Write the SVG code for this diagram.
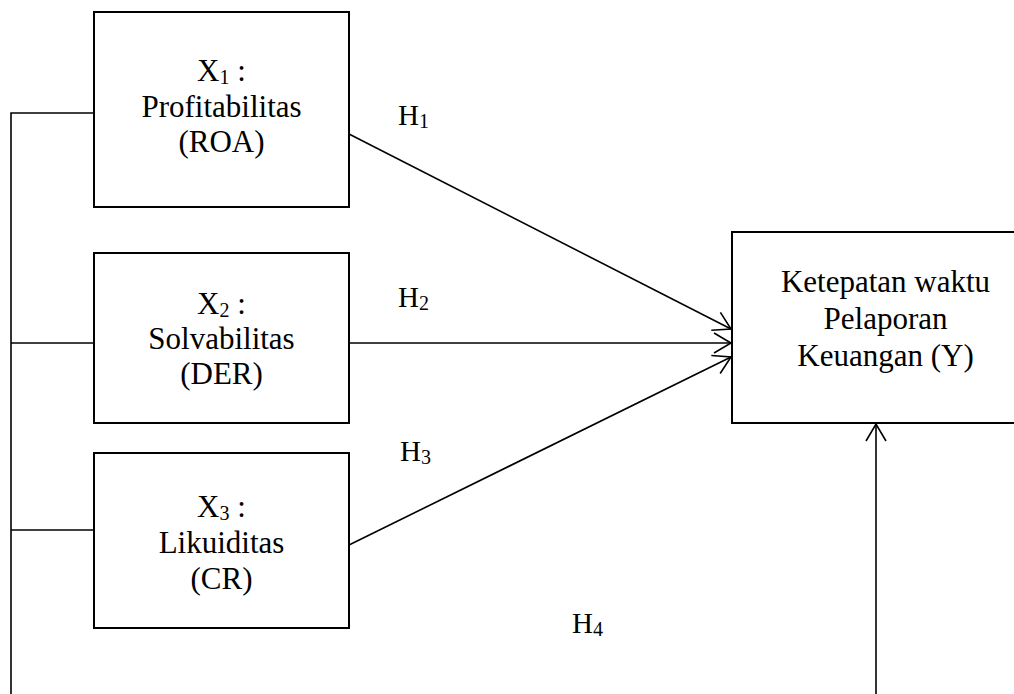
<svg xmlns="http://www.w3.org/2000/svg" width="1014" height="694" viewBox="0 0 1014 694">
<style>
.box{fill:#fff;stroke:#000;stroke-width:2}
.ln{fill:none;stroke:#000;stroke-width:1.6}
text{font-family:"Liberation Serif","Times New Roman",serif;font-size:31px;fill:#000}
.c{text-anchor:middle}
.sub{font-size:20px}
.h{font-size:29px}
</style>
<defs>
<marker id="ah" markerUnits="userSpaceOnUse" markerWidth="22" markerHeight="24" refX="19" refY="12" orient="auto" overflow="visible">
<path d="M2,2 L19,12 L2,22" fill="none" stroke="#000" stroke-width="1.6"/>
</marker>
</defs>
<g id="connectors">
<path class="ln" d="M11,694 V113 H94"/>
<path class="ln" d="M11,343 H94"/>
<path class="ln" d="M11,530 H94"/>
<line class="ln" x1="349" y1="134" x2="731" y2="329" marker-end="url(#ah)"/>
<line class="ln" x1="349" y1="343" x2="731" y2="343" marker-end="url(#ah)"/>
<line class="ln" x1="349" y1="545" x2="731" y2="357" marker-end="url(#ah)"/>
<line class="ln" x1="876" y1="694" x2="876" y2="424" marker-end="url(#ah)"/>
<text class="h" x="398" y="125">H<tspan class="sub" dy="3">1</tspan></text>
<text class="h" x="398" y="307">H<tspan class="sub" dy="3">2</tspan></text>
<text class="h" x="400" y="461">H<tspan class="sub" dy="3">3</tspan></text>
<text class="h" x="572" y="633">H<tspan class="sub" dy="3">4</tspan></text>
</g>
<g id="x1">
<rect class="box" x="94" y="12" width="255" height="195"/>
<text class="c" x="221.5" y="81">X<tspan class="sub" dy="3">1</tspan><tspan dy="-3"> :</tspan></text>
<text class="c" x="221.5" y="117">Profitabilitas</text>
<text class="c" x="221.5" y="152">(ROA)</text>
</g>
<g id="x2">
<rect class="box" x="94" y="253" width="255" height="170"/>
<text class="c" x="221.5" y="314">X<tspan class="sub" dy="3">2</tspan><tspan dy="-3"> :</tspan></text>
<text class="c" x="221.5" y="349">Solvabilitas</text>
<text class="c" x="221.5" y="384">(DER)</text>
</g>
<g id="x3">
<rect class="box" x="94" y="453" width="255" height="175"/>
<text class="c" x="221.5" y="517">X<tspan class="sub" dy="3">3</tspan><tspan dy="-3"> :</tspan></text>
<text class="c" x="221.5" y="553">Likuiditas</text>
<text class="c" x="221.5" y="589">(CR)</text>
</g>
<g id="y">
<rect class="box" x="732" y="232" width="310" height="191"/>
<text class="c" x="885.5" y="292">Ketepatan waktu</text>
<text class="c" x="885.5" y="329">Pelaporan</text>
<text class="c" x="885.5" y="366">Keuangan (Y)</text>
</g>
</svg>
